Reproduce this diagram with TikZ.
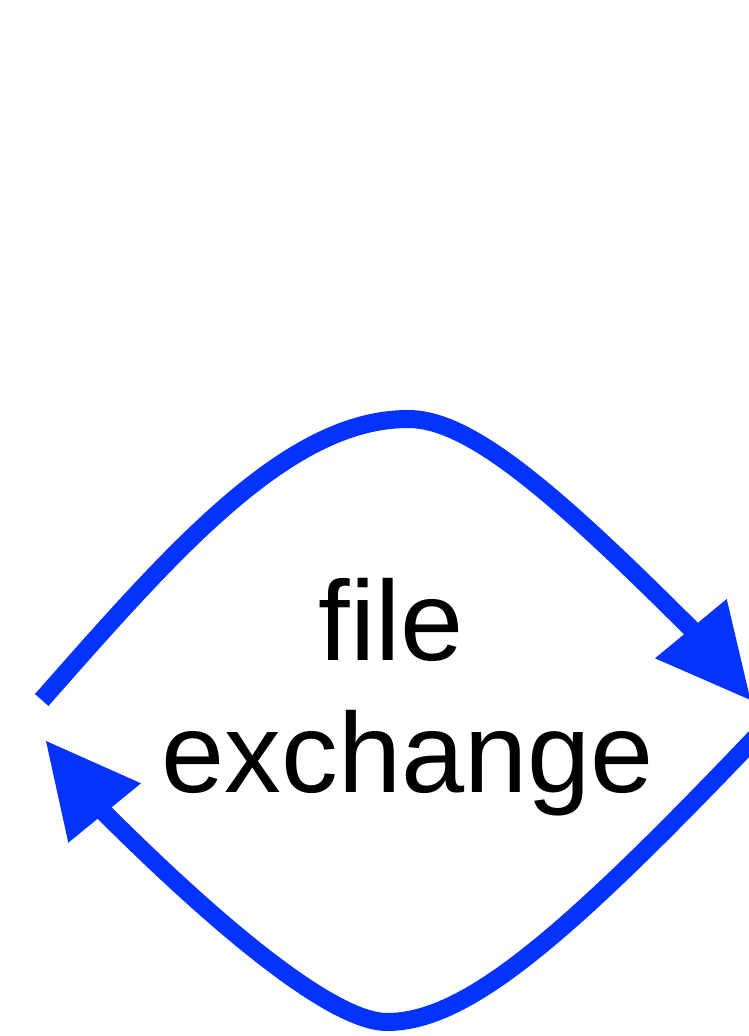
\documentclass[tikz,border=0pt]{standalone}
\usepackage{fontspec}
\setmainfont{Liberation Sans}
\definecolor{arcblue}{RGB}{4,51,255}
\tikzset{
  flow/.style={draw=arcblue, line width=18pt, line cap=butt, line join=round},
  headfill/.style={fill=arcblue},
  label/.style={inner sep=0pt, anchor=base, text=black,
    font=\fontsize{113.5}{132}\selectfont}
}
\begin{document}
\begin{tikzpicture}[x=1pt,y=-1pt]
\useasboundingbox (0,0) rectangle (749,1036);
\clip (0,0) rectangle (749,1036);
\fill[white] (0,0) rectangle (749,1036);
\node[label] (file) at (391,660.7) {file};
\node[label] (exch) at (408,792.7) {exchange};
% top arc: left to right
\coordinate (topstart) at (41.7,700);
\coordinate (topapex) at (408,419);
\coordinate (topend) at (693,630.7);
\coordinate (toptip) at (750.5,700);
\coordinate (topwingA) at (726.7,599);
\coordinate (topwingB) at (655,658.3);
\draw[flow] (topstart) .. controls (173.9,550) and (288,419) .. (topapex)
  .. controls (468,419) and (549.6,487.2) .. (topend);
\fill[headfill] (toptip) -- (topwingA) -- (topwingB) -- cycle;
% bottom arc: right to left
\coordinate (botstart) at (760,732.6);
\coordinate (botapex) at (387,1022);
\coordinate (botend) at (102.5,810.9);
\coordinate (bottip) at (46,741);
\coordinate (botwingA) at (141,783.3);
\coordinate (botwingB) at (68.3,842.7);
\draw[flow] (botstart) .. controls (566.8,935.3) and (467,1022) .. (botapex)
  .. controls (337,1022) and (232,940.3) .. (botend);
\fill[headfill] (bottip) -- (botwingA) -- (botwingB) -- cycle;
\end{tikzpicture}
\end{document}
